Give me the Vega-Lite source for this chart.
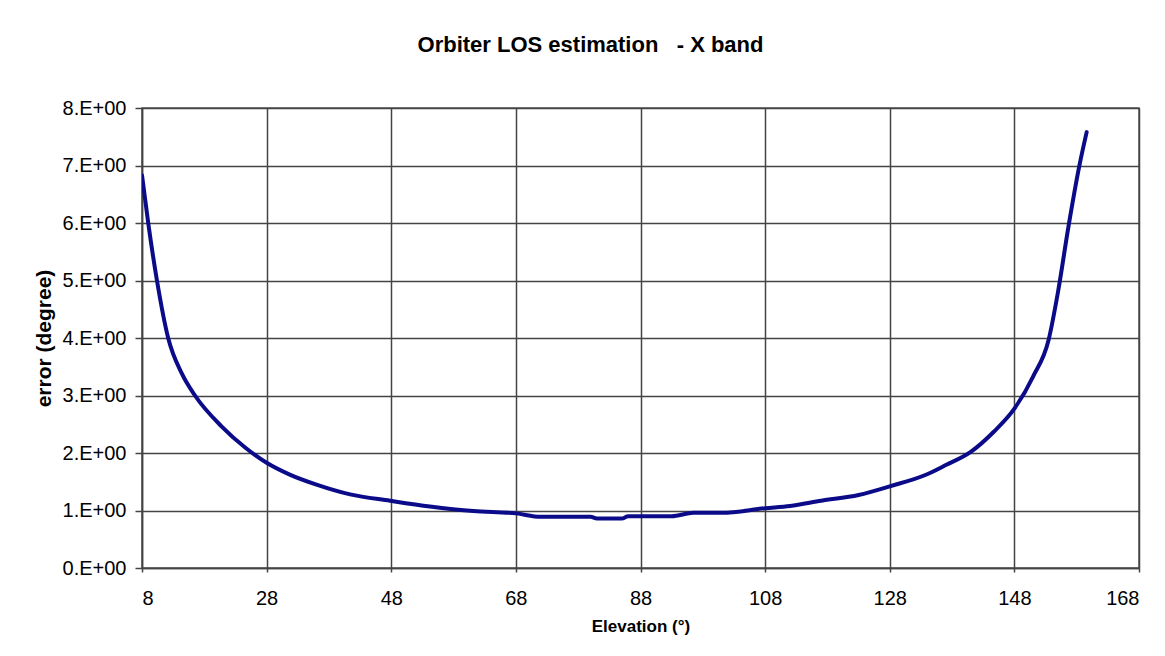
{
  "$schema": "https://vega.github.io/schema/vega-lite/v6.json",
  "autosize": {"type": "none"},
  "padding": {"left": 142, "top": 108, "right": 26, "bottom": 88},
  "width": 997,
  "height": 460,
  "background": "white",
  "title": {
    "text": "Orbiter LOS estimation\u00a0\u00a0\u00a0- X band",
    "font": "Liberation Sans",
    "fontSize": 22,
    "fontWeight": "bold",
    "color": "black",
    "anchor": "middle",
    "dx": -50,
    "baseline": "alphabetic",
    "offset": 24
  },
  "data": {
    "values": [
      {"elevation": 8, "error": 6.83},
      {"elevation": 9, "error": 6.0},
      {"elevation": 10.4, "error": 5.0},
      {"elevation": 12.2, "error": 4.0},
      {"elevation": 14.4, "error": 3.38},
      {"elevation": 16.5, "error": 3.0},
      {"elevation": 20.8, "error": 2.46},
      {"elevation": 24.5, "error": 2.1},
      {"elevation": 28, "error": 1.83},
      {"elevation": 31.8, "error": 1.62},
      {"elevation": 36, "error": 1.45},
      {"elevation": 41.4, "error": 1.28},
      {"elevation": 47.8, "error": 1.17},
      {"elevation": 54.2, "error": 1.07},
      {"elevation": 61.2, "error": 0.99},
      {"elevation": 68, "error": 0.95},
      {"elevation": 72, "error": 0.89},
      {"elevation": 80, "error": 0.89},
      {"elevation": 81, "error": 0.86},
      {"elevation": 85, "error": 0.86},
      {"elevation": 86, "error": 0.9},
      {"elevation": 93, "error": 0.9},
      {"elevation": 96.5, "error": 0.96},
      {"elevation": 101, "error": 0.96},
      {"elevation": 108, "error": 1.04},
      {"elevation": 112, "error": 1.08},
      {"elevation": 117, "error": 1.17},
      {"elevation": 123, "error": 1.27},
      {"elevation": 128, "error": 1.42},
      {"elevation": 134, "error": 1.63},
      {"elevation": 137, "error": 1.79},
      {"elevation": 141, "error": 2.02},
      {"elevation": 144.7, "error": 2.37},
      {"elevation": 148, "error": 2.77},
      {"elevation": 151, "error": 3.33},
      {"elevation": 153.5, "error": 3.97},
      {"elevation": 155, "error": 4.8},
      {"elevation": 156.7, "error": 5.95},
      {"elevation": 158.4, "error": 6.98},
      {"elevation": 159.6, "error": 7.58}
    ]
  },
  "mark": {"type": "line", "color": "#0b0b8a", "strokeWidth": 4, "strokeCap": "round", "strokeJoin": "round", "interpolate": "monotone", "clip": true},
  "encoding": {
    "x": {
      "field": "elevation",
      "type": "quantitative",
      "scale": {"domain": [8, 168], "nice": false, "zero": false},
      "axis": {
        "title": "Elevation (°)",
        "values": [8, 28, 48, 68, 88, 108, 128, 148, 168],
        "tickSize": 4,
        "labelPadding": 16,
        "labelFontSize": 20,
        "titleFontSize": 17,
        "titlePadding": 10
      }
    },
    "y": {
      "field": "error",
      "type": "quantitative",
      "scale": {"domain": [0, 8], "nice": false},
      "axis": {
        "title": "error (degree)",
        "values": [0, 1, 2, 3, 4, 5, 6, 7, 8],
        "labelExpr": "datum.value + '.E+00'",
        "tickSize": 7,
        "labelPadding": 9,
        "labelFontSize": 20,
        "titleFontSize": 21,
        "titlePadding": 8
      }
    }
  },
  "config": {
    "font": "Liberation Sans",
    "view": {"stroke": "#555555", "strokeWidth": 1.5},
    "axis": {
      "labelFont": "Liberation Sans",
      "titleFont": "Liberation Sans",
      "labelColor": "black",
      "titleColor": "black",
      "titleFontWeight": "bold",
      "grid": true,
      "gridColor": "#444444",
      "gridWidth": 1.5,
      "gridOpacity": 1,
      "domainColor": "#444444",
      "domainWidth": 1.5,
      "tickColor": "#444444",
      "tickWidth": 1.5
    }
  }
}
